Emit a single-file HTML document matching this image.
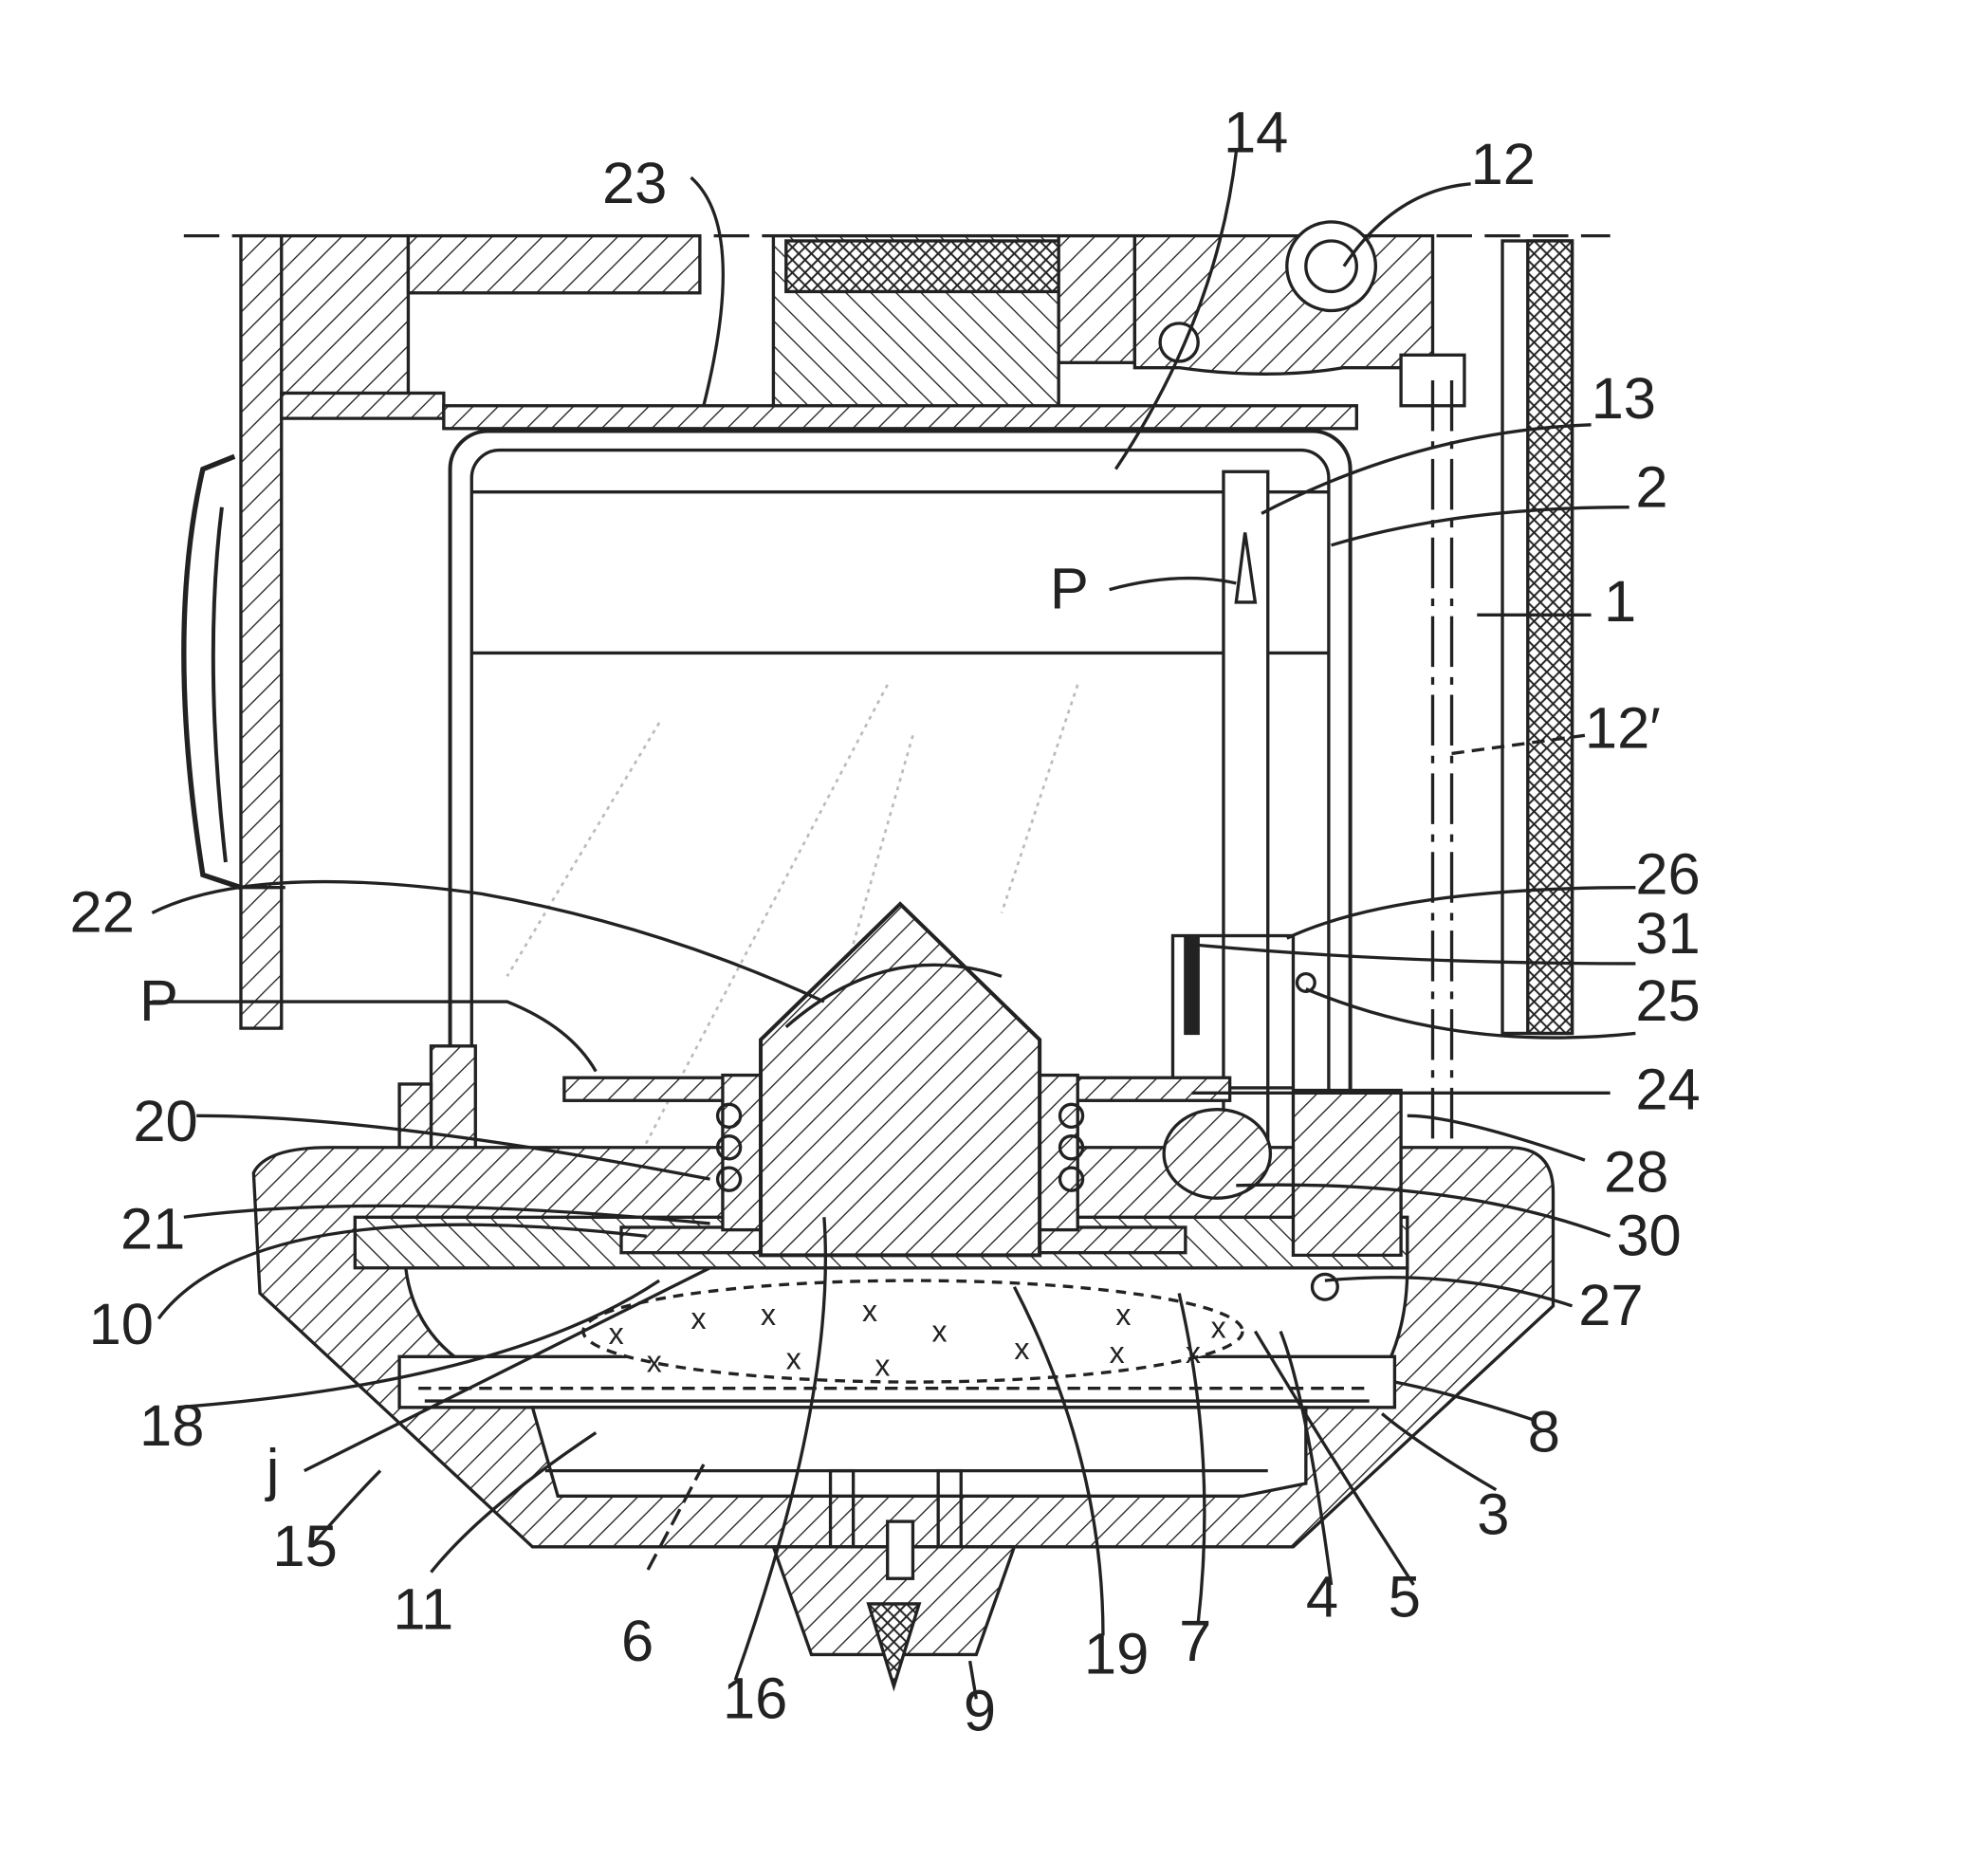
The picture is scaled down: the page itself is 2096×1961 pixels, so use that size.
<!DOCTYPE html>
<html><head><meta charset="utf-8"><style>
html,body{margin:0;padding:0;background:#fff;}
svg{display:block;}
text{font-family:"Liberation Sans",sans-serif;font-size:46px;fill:#222;}
</style></head><body>
<svg width="2096" height="1961" viewBox="0 0 1568 1467" xmlns="http://www.w3.org/2000/svg">
<defs>
<pattern id="h" width="14" height="14" patternUnits="userSpaceOnUse" patternTransform="rotate(45)">
<rect width="14" height="14" fill="#fff"/><line x1="0" y1="0" x2="0" y2="14" stroke="#222" stroke-width="2"/></pattern>
<pattern id="h2" width="14" height="14" patternUnits="userSpaceOnUse" patternTransform="rotate(-45)">
<rect width="14" height="14" fill="#fff"/><line x1="0" y1="0" x2="0" y2="14" stroke="#222" stroke-width="2"/></pattern>
<pattern id="x" width="10" height="10" patternUnits="userSpaceOnUse">
<rect width="10" height="10" fill="#fff"/><path d="M0 0L10 10M10 0L0 10" stroke="#222" stroke-width="1.5"/></pattern>
</defs>
<g stroke="#222" stroke-width="2.5" fill="none">
<line x1="145" y1="186" x2="1270" y2="186" stroke-dasharray="28,10"/>
<rect x="192" y="186" width="130" height="140" fill="url(#h)"/>
<rect x="322" y="186" width="230" height="45" fill="url(#h)"/>
<rect x="610" y="186" width="225" height="135" fill="url(#h2)"/>
<rect x="620" y="190" width="230" height="40" fill="url(#x)"/>
<rect x="835" y="186" width="60" height="100" fill="url(#h)"/>
<path d="M895 186 L1130 186 L1130 290 L1060 290 Q1000 300 930 290 L895 290Z" fill="url(#h)"/>
<circle cx="1050" cy="210" r="35" fill="#fff"/><circle cx="1050" cy="210" r="20"/>
<circle cx="930" cy="270" r="15" fill="#fff"/>
<rect x="1105" y="280" width="50" height="40" fill="#fff"/>
<rect x="190" y="186" width="32" height="625" fill="url(#h)"/>
<path d="M222 330 L350 330 L350 310 L222 310Z" fill="url(#h)"/>
<path d="M185 360 L160 370 Q130 500 160 690 L190 700" stroke-width="4"/>
<path d="M175 400 Q160 520 178 680" stroke-width="3"/>
<path d="M190 700 L225 700"/>
<rect x="1185" y="190" width="55" height="625"/>
<rect x="1205" y="190" width="35" height="625" fill="url(#x)"/>
<line x1="1130" y1="300" x2="1130" y2="930" stroke-dasharray="40,8,6,8"/>
<line x1="1145" y1="300" x2="1145" y2="930" stroke-dasharray="40,8,6,8"/>
<rect x="350" y="320" width="720" height="18" fill="url(#h)"/>
<rect x="355" y="340" width="710" height="720" rx="30" stroke-width="3"/>
<rect x="372" y="355" width="676" height="690" rx="22"/>
<line x1="372" y1="388" x2="1048" y2="388"/>
<line x1="372" y1="515" x2="1048" y2="515"/>
<g stroke="#bbb" stroke-width="2" stroke-dasharray="3,4">
<line x1="520" y1="570" x2="400" y2="770"/><line x1="700" y1="540" x2="500" y2="920"/>
<line x1="720" y1="580" x2="560" y2="1140"/><line x1="850" y1="540" x2="790" y2="720"/>
</g>
<rect x="965" y="372" width="35" height="560" fill="#fff"/>
<path d="M982 420 L975 475 L990 475Z"/>
<rect x="925" y="738" width="95" height="120"/>
<rect x="935" y="740" width="10" height="75" fill="#222"/>
<path d="M340 825 L375 825 L375 1060 L340 1060Z" fill="url(#h)"/>
<path d="M315 855 L340 855 L340 1060 L315 1060Z" fill="url(#h)"/>
<path d="M200 925 Q210 905 260 905 L1190 905 Q1225 905 1225 940 L1225 1030 L1020 1220 L420 1220 L205 1020Z" fill="url(#h)"/>
<path d="M320 1000 Q330 1080 430 1100 L1080 1100 Q1110 1060 1110 1000Z" fill="#fff"/>
<path d="M315 1070 L1100 1070 L1100 1110 L315 1110Z" fill="#fff"/>
<path d="M420 1110 L1030 1110 L1030 1170 L980 1180 L440 1180 Z" fill="#fff"/>
<path d="M280 960 L1110 960 L1110 1000 L280 1000Z" fill="url(#h2)"/>
<path d="M330 1095 L1080 1095" stroke-dasharray="10,6"/>
<path d="M335 1105 L1080 1105"/>
<ellipse cx="720" cy="1050" rx="260" ry="40" fill="#fff" stroke-dasharray="8,6"/>
<rect x="445" y="850" width="140" height="18" fill="url(#h)"/>
<rect x="830" y="850" width="140" height="18" fill="url(#h)"/>
<rect x="490" y="968" width="445" height="20" fill="url(#h)"/>
<rect x="570" y="848" width="30" height="122" fill="url(#h)"/>
<rect x="820" y="848" width="30" height="122" fill="url(#h)"/>
<circle cx="575" cy="880" r="9"/><circle cx="575" cy="905" r="9"/><circle cx="575" cy="930" r="9"/>
<circle cx="845" cy="880" r="9"/><circle cx="845" cy="905" r="9"/><circle cx="845" cy="930" r="9"/>
<path d="M600 820 L710 713 L820 820 L820 990 L600 990Z" fill="url(#h)" stroke-width="3"/>
<path d="M620 810 Q700 740 790 770"/>
<ellipse cx="960" cy="910" rx="42" ry="35" fill="url(#h)"/>
<path d="M1020 860 L1105 860 L1105 990 L1020 990Z" fill="url(#h)"/>
<circle cx="1045" cy="1015" r="10" fill="#fff"/>
<circle cx="1030" cy="775" r="7"/>
<path d="M430 1160 L1000 1160"/>
<path d="M610 1220 L800 1220 L770 1305 L640 1305Z" fill="url(#h)"/>
<rect x="655" y="1160" width="18" height="60"/><rect x="740" y="1160" width="18" height="60"/>
<rect x="700" y="1200" width="20" height="45" fill="#fff"/>
<path d="M685 1265 L725 1265 L705 1330Z" fill="url(#x)"/>
<line x1="555" y1="1155" x2="510" y2="1240" stroke-dasharray="14,6"/>
<path d="M545 140 Q590 180 555 320"/>
<path d="M975 120 Q960 250 880 370"/>
<path d="M1160 145 Q1100 150 1060 210"/>
<path d="M1255 335 Q1120 340 995 405"/>
<path d="M1285 400 Q1150 400 1050 430"/>
<path d="M875 465 Q930 450 975 460"/>
<path d="M1255 485 L1165 485"/>
<path d="M1250 580 L1140 595" stroke-dasharray="10,6"/>
<path d="M1290 700 Q1100 700 1015 740"/>
<path d="M1290 760 Q1100 760 940 745"/>
<path d="M1290 815 Q1150 830 1030 780"/>
<path d="M1270 862 L940 862"/>
<path d="M1250 915 Q1150 880 1110 880"/>
<path d="M1270 975 Q1150 930 975 935"/>
<path d="M1240 1030 Q1150 1000 1045 1010"/>
<path d="M120 720 Q200 680 380 705 Q520 730 650 790"/>
<path d="M120 790 L400 790 Q450 810 470 845"/>
<path d="M155 880 Q300 880 560 930"/>
<path d="M145 960 Q300 940 560 965"/>
<path d="M125 1040 Q200 940 510 975"/>
<path d="M140 1110 Q400 1090 520 1010"/>
<path d="M240 1160 Q400 1080 560 1000"/>
<path d="M245 1220 Q280 1180 300 1160"/>
<path d="M340 1240 Q380 1190 470 1130"/>
<path d="M580 1325 Q660 1100 650 960"/>
<path d="M870 1290 Q870 1150 800 1015"/>
<path d="M945 1280 Q960 1150 930 1020"/>
<path d="M1050 1250 Q1030 1100 1010 1050"/>
<path d="M1115 1250 Q1050 1150 990 1050"/>
<path d="M1210 1120 Q1150 1100 1100 1090"/>
<path d="M1180 1175 Q1120 1140 1090 1115"/>
<path d="M765 1310 L770 1340"/>
</g>
<g style="font-size:24px">
<text x="480" y="1060" style="font-size:24px">x</text><text x="545" y="1048" style="font-size:24px">x</text>
<text x="600" y="1045" style="font-size:24px">x</text><text x="680" y="1042" style="font-size:24px">x</text>
<text x="735" y="1058" style="font-size:24px">x</text><text x="800" y="1072" style="font-size:24px">x</text>
<text x="880" y="1045" style="font-size:24px">x</text><text x="875" y="1075" style="font-size:24px">x</text>
<text x="510" y="1082" style="font-size:24px">x</text><text x="620" y="1080" style="font-size:24px">x</text>
<text x="690" y="1085" style="font-size:24px">x</text><text x="935" y="1075" style="font-size:24px">x</text>
<text x="955" y="1055" style="font-size:24px">x</text>
</g>
<g>
<text x="475" y="160">23</text>
<text x="965" y="120">14</text>
<text x="1160" y="145">12</text>
<text x="1255" y="330">13</text>
<text x="1290" y="400">2</text>
<text x="828" y="480">P</text>
<text x="1265" y="490">1</text>
<text x="1250" y="590">12′</text>
<text x="1290" y="705">26</text>
<text x="1290" y="752">31</text>
<text x="1290" y="805">25</text>
<text x="1290" y="875">24</text>
<text x="1265" y="940">28</text>
<text x="1275" y="990">30</text>
<text x="1245" y="1045">27</text>
<text x="1205" y="1145">8</text>
<text x="1165" y="1210">3</text>
<text x="1095" y="1275">5</text>
<text x="1030" y="1275">4</text>
<text x="930" y="1310">7</text>
<text x="855" y="1320">19</text>
<text x="760" y="1365">9</text>
<text x="570" y="1355">16</text>
<text x="490" y="1310">6</text>
<text x="310" y="1285">11</text>
<text x="215" y="1235">15</text>
<text x="210" y="1175">j</text>
<text x="110" y="1140">18</text>
<text x="70" y="1060">10</text>
<text x="95" y="985">21</text>
<text x="105" y="900">20</text>
<text x="110" y="805">P</text>
<text x="55" y="735">22</text>
</g>
</svg>
</body></html>
